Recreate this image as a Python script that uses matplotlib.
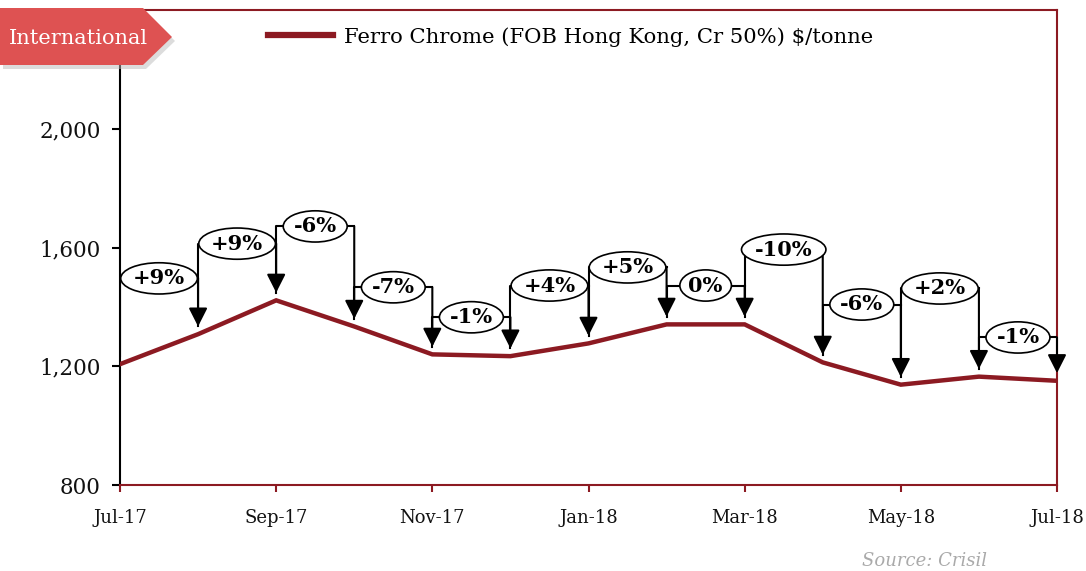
import matplotlib.pyplot as plt
from matplotlib.patches import Polygon

months = ["Jul-17", "Aug-17", "Sep-17", "Oct-17", "Nov-17", "Dec-17", "Jan-18",
          "Feb-18", "Mar-18", "Apr-18", "May-18", "Jun-18", "Jul-18"]
prices = [1207, 1308, 1422, 1334, 1240, 1234, 1277, 1341, 1341, 1213, 1138, 1165, 1151]
changes = ["+9%", "+9%", "-6%", "-7%", "-1%", "+4%", "+5%", "0%", "-10%", "-6%", "+2%", "-1%"]
# height of the connector / label for each month-on-month change
levels = [1496, 1613, 1671, 1466, 1365, 1472, 1533, 1472, 1593, 1408, 1462, 1297]

red = "#8C1A22"
W, H = 1086, 571
fig = plt.figure(figsize=(W / 100, H / 100), dpi=100)
ax = fig.add_axes([120 / W, (H - 485) / H, 937 / W, 475 / H])
serif = ["DejaVu Serif", "Liberation Serif"]

x = list(range(len(months)))
ax.plot(x, prices, color=red, lw=3.2, solid_joinstyle="miter", zorder=3,
        label="Ferro Chrome (FOB Hong Kong, Cr 50%) $/tonne")

off = 26
for i, lab in enumerate(changes):
    start = prices[i] + off
    end = prices[i + 1] + off
    lv = levels[i]
    ax.plot([i, i, i + 1], [start, lv, lv], color="black", lw=1.5, zorder=4)
    ax.annotate("", xy=(i + 1, end), xytext=(i + 1, lv),
                arrowprops=dict(arrowstyle="-|>,head_length=0.75,head_width=0.38",
                                mutation_scale=15, color="black", lw=1.5,
                                shrinkA=0, shrinkB=0), zorder=4)
    ax.text(i + 0.5, lv, lab, ha="center", va="center", fontsize=15, fontweight="bold",
            family=serif, zorder=5,
            bbox=dict(boxstyle="ellipse,pad=0.05", fc="white", ec="black", lw=1.2))

ax.set_xlim(0, 12)
ax.set_ylim(800, 2400)
ax.set_yticks([800, 1200, 1600, 2000])
ax.set_yticklabels(["800", "1,200", "1,600", "2,000"])
ax.set_xticks(x[::2])
ax.set_xticklabels(months[::2])
for s in ["top", "right", "bottom"]:
    ax.spines[s].set_color(red)
    ax.spines[s].set_linewidth(1.5)
ax.spines["left"].set_color("black")
ax.spines["left"].set_linewidth(1.5)
ax.tick_params(axis="y", length=6, width=1.5, color="black", labelsize=15.5, pad=8)
ax.tick_params(axis="x", length=5, width=1.5, color=red, labelsize=13, pad=12)
for t in ax.get_xticklabels() + ax.get_yticklabels():
    t.set_family(serif)
    t.set_color("#111111")

leg = fig.legend(loc="center left", bbox_to_anchor=(268 / W, 1 - 37 / H), frameon=False,
                 borderpad=0, borderaxespad=0, handlelength=3.1, handletextpad=0.5,
                 prop=dict(family=serif, size=15.2))
leg.get_lines()[0].set_linewidth(4.5)

# "International" tag
pts = [(0, 8), (143, 8), (172, 37), (143, 65), (0, 65)]
shadow = Polygon([((px + 3) / W, 1 - (py + 4) / H) for px, py in pts],
                 closed=True, transform=fig.transFigure, fc="#bbbbbb", ec="none",
                 alpha=0.5, zorder=9)
tag = Polygon([(px / W, 1 - py / H) for px, py in pts], closed=True,
              transform=fig.transFigure, fc="#DE5252", ec="none", zorder=10)
fig.patches.extend([shadow, tag])
fig.text(78 / W, 1 - 38 / H, "International", ha="center", va="center", color="white",
         fontsize=15, family=serif, zorder=11)

fig.text(925 / W, 1 - 561 / H, "Source: Crisil", ha="center", va="center", color="#aaaaaa",
         fontsize=13, style="italic", family=serif)

fig.savefig("out.png", dpi=100)
